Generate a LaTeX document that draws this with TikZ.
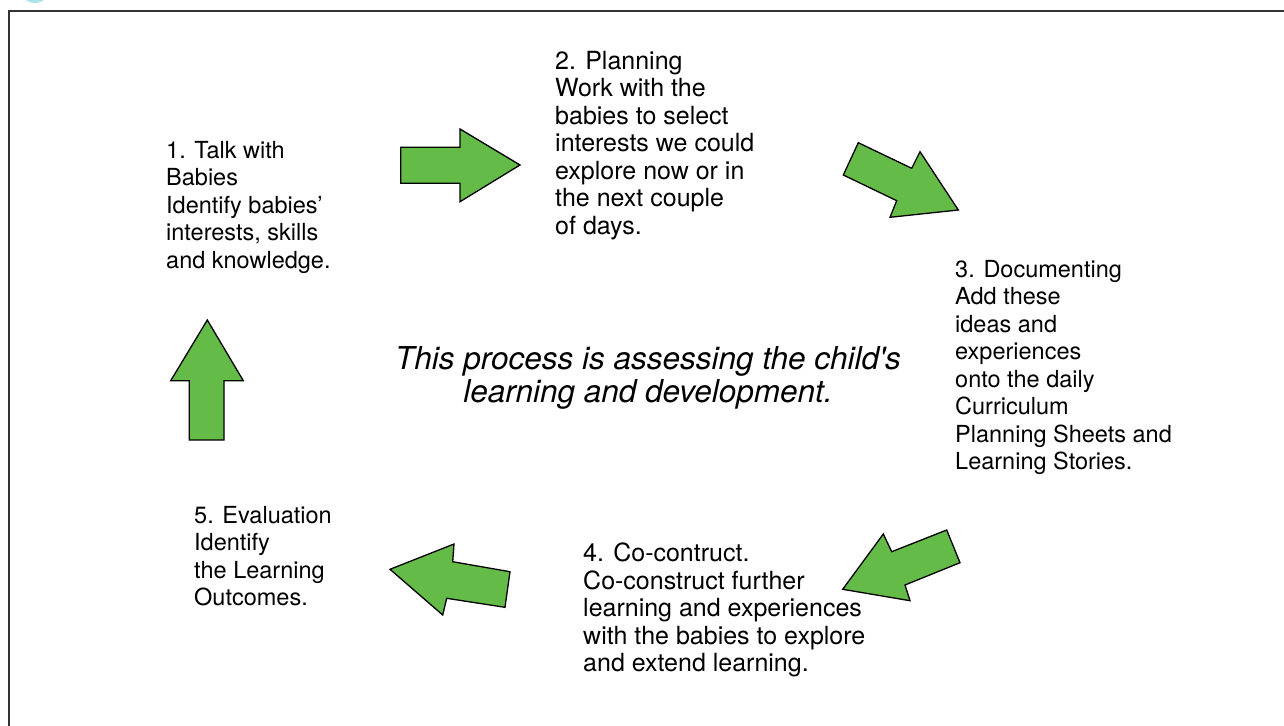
\documentclass[tikz,border=0pt]{standalone}
\usepackage{fontspec}
\setmainfont{TeX Gyre Heros}
\definecolor{arrowgreen}{RGB}{101,187,72}
\definecolor{blobcyan}{RGB}{172,226,236}
\tikzset{
  stage/.style={anchor=north west, align=left, inner sep=0pt, font=\fontsize{23.5}{27.5}\selectfont},
  bigstage/.style={stage, font=\fontsize{25}{27.5}\selectfont},
  fatarrow/.style={fill=arrowgreen, draw=black, line width=1.3pt, line join=miter},
}

\begin{document}
\begin{tikzpicture}[x=1pt,y=-1pt]
    \clip (0,0) rectangle (1284,725);
    \fill[white] (0,0) rectangle (1284,725);
    \fill[blobcyan] (35,-4) ellipse [x radius=11, y radius=7];
    \draw[line width=2pt, black!80] (9,11) rectangle (1300,740);

    % the five steps
    \node[stage] (talk) at (166,141) {1. Talk with\\Babies\\Identify babies’\\interests, skills\\and knowledge.};
    \node[bigstage] (planning) at (555,51) {2. Planning\\Work with the\\babies to select\\interests we could\\explore now or in\\the next couple\\of days.};
    \node[stage] (documenting) at (955,260) {3. Documenting\\Add these\\ideas and\\experiences\\onto the daily\\Curriculum\\Planning Sheets and\\Learning Stories.};
    \node[bigstage] (cocon) at (583,543) {4. Co-contruct.\\Co-construct further\\learning and experiences\\with the babies to explore\\and extend learning.};
    \node[stage] (evaluation) at (194,506) {5. Evaluation\\Identify\\the Learning\\Outcomes.};
    \node[align=center, font=\fontsize{31.5}{33}\selectfont\itshape] (process) at (648,378)
      {This process is assessing the child\textquotesingle s\\learning and development.};

    % arrows between the steps
    \draw[fatarrow] (400.7,147.3) -- (460,147.3) -- (460,129) -- (520,165) -- (460,201.7) -- (460,183.3) -- (400.7,183.3) -- cycle;
    \draw[fatarrow] (858.3,142.7) -- (911.7,168.3) -- (920,151.7) -- (958.3,210) -- (890,217.3) -- (896.7,200.7) -- (843.3,175) -- cycle;
    \draw[fatarrow] (946.7,530) -- (960,562.7) -- (905,585) -- (910,600.7) -- (842.7,589.3) -- (883.3,534) -- (891.7,551.7) -- cycle;
    \draw[fatarrow] (390,569.3) -- (454,544) -- (452.7,561.7) -- (510,571.7) -- (505,607.3) -- (446.7,598.3) -- (442.7,615) -- cycle;
    \draw[fatarrow] (207.3,320) -- (243.3,380.7) -- (224,380.7) -- (224,440) -- (189.3,440) -- (189.3,380.7) -- (170.7,380.7) -- cycle;
\end{tikzpicture}
\end{document}
